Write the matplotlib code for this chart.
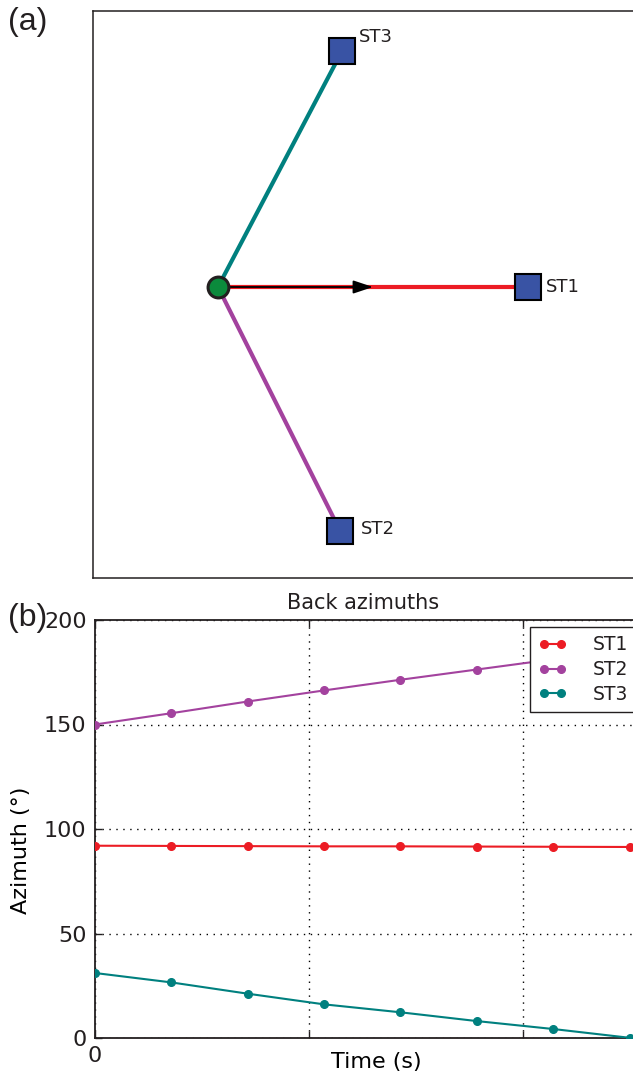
import matplotlib
matplotlib.use("Agg")
import matplotlib.pyplot as plt
import numpy as np

# station layout (km, source at origin)
stations = ["ST1", "ST2", "ST3"]
station_x = [10.0, 3.94, 4.0]
station_y = [0.0, -7.87, 7.61]
source_xy = (0.0, 0.0)
slowness_tip = (5.0, 0.0)

# back azimuth time series
time = [0, 1, 2, 3, 4, 5, 6, 7]
baz_st1 = [92.0, 91.9, 91.8, 91.7, 91.7, 91.6, 91.5, 91.4]
baz_st2 = [150.0, 155.4, 161.0, 166.3, 171.4, 176.3, 181.2, 186.0]
baz_st3 = [31.1, 26.6, 21.2, 16.1, 12.3, 8.1, 4.3, 0.1]
grid_times = [0, 2.8, 5.6]
time_labels = ["0", "", ""]
az_ticks = [0, 50, 100, 150, 200]

colors = {"ST1": "#ec1c24", "ST2": "#a3429e", "ST3": "#00807f"}
series = {"ST1": baz_st1, "ST2": baz_st2, "ST3": baz_st3}

plt.rcParams["font.family"] = "DejaVu Sans"
plt.rcParams["text.color"] = "#231f20"
plt.rcParams["xtick.color"] = "#231f20"
plt.rcParams["ytick.color"] = "#231f20"

W, H = 633, 1076
fig = plt.figure(figsize=(W / 100, H / 100), dpi=100)

# ---- (a) map view ----
px_per_km = 31.0
ax_a = fig.add_axes([93 / W, 1 - 578 / H, 0.9, (578 - 11) / H])
x0 = -125 / px_per_km
ax_a.set_xlim(x0, x0 + 0.9 * W / px_per_km)
ax_a.set_ylim(-291 / px_per_km, 276 / px_per_km)
ax_a.set_xticks([])
ax_a.set_yticks([])
for sp in ax_a.spines.values():
    sp.set_linewidth(1.1)
    sp.set_color("#231f20")

for name, sx, sy in zip(stations, station_x, station_y):
    ax_a.plot([source_xy[0], sx], [source_xy[1], sy], color=colors[name], lw=3.0,
              solid_capstyle="butt", zorder=2)
    ax_a.plot(sx, sy, marker="s", ms=18.5, mfc="#3953a4", mec="black", mew=1.5, zorder=4)

ax_a.annotate("ST1", (station_x[0], station_y[0]), xytext=(18, 0), textcoords="offset pixels",
              ha="left", va="center", fontsize=13)
ax_a.annotate("ST2", (station_x[1], station_y[1]), xytext=(21, 2), textcoords="offset pixels",
              ha="left", va="center", fontsize=13)
ax_a.annotate("ST3", (station_x[2], station_y[2]), xytext=(17, 14), textcoords="offset pixels",
              ha="left", va="center", fontsize=13)

ax_a.annotate("", xy=slowness_tip, xytext=source_xy,
              arrowprops=dict(arrowstyle="-|>,head_length=0.6,head_width=0.2", mutation_scale=20,
                              lw=1.3, color="black", shrinkA=0, shrinkB=0), zorder=3)
ax_a.plot(*source_xy, marker="o", ms=15, mfc="#0b8a3c", mec="#231f20", mew=2.2, zorder=5)

# ---- (b) back azimuths ----
left_px, right_px = 95, 657
ax_b = fig.add_axes([left_px / W, 1 - 1038 / H, (right_px - left_px) / W, (1038 - 620) / H])
for name in stations:
    ax_b.plot(time, series[name], color=colors[name], lw=1.5, marker="o", ms=5.5,
              mec=colors[name], label=name, zorder=3)
ax_b.set_xlim(0, 7.36)
ax_b.set_ylim(0, 200)
ax_b.set_xticks(grid_times)
ax_b.set_xticklabels(time_labels)
ax_b.set_yticks(az_ticks)
ax_b.tick_params(direction="in", length=5, width=1, labelsize=16, top=True, right=True, pad=6)
ax_b.grid(True, color="black", ls=(0, (1, 4)), lw=1.0)
for sp in ax_b.spines.values():
    sp.set_linewidth(1.3)
    sp.set_color("#231f20")

span = right_px - left_px
ax_b.set_title("Back azimuths", fontsize=15, pad=8, x=(363 - left_px) / span)
ax_b.set_xlabel("Time (s)", fontsize=16)
ax_b.xaxis.set_label_coords((376 - left_px) / span, -(1052 - 1038) / 418)
ax_b.set_ylabel("Azimuth (°)", fontsize=16)
ax_b.yaxis.set_label_coords(-(95 - 31) / span, (1038 - 850) / 418)

leg = ax_b.legend(loc="upper left", bbox_to_anchor=(530 / W, 1 - 627 / H),
                  bbox_transform=fig.transFigure, borderaxespad=0, fontsize=13.5,
                  handlelength=1.5, numpoints=2, fancybox=False, framealpha=1,
                  labelspacing=0.3, handletextpad=1.4, borderpad=0.45)
leg.get_frame().set_edgecolor("#231f20")
leg.get_frame().set_linewidth(1.0)
leg.set_zorder(5)

fig.text(8 / W, 1 - 22 / H, "(a)", fontsize=23, family="Liberation Sans", va="center", ha="left")
fig.text(8 / W, 1 - 618 / H, "(b)", fontsize=23, family="Liberation Sans", va="center", ha="left")

fig.savefig("out.png", dpi=100)
